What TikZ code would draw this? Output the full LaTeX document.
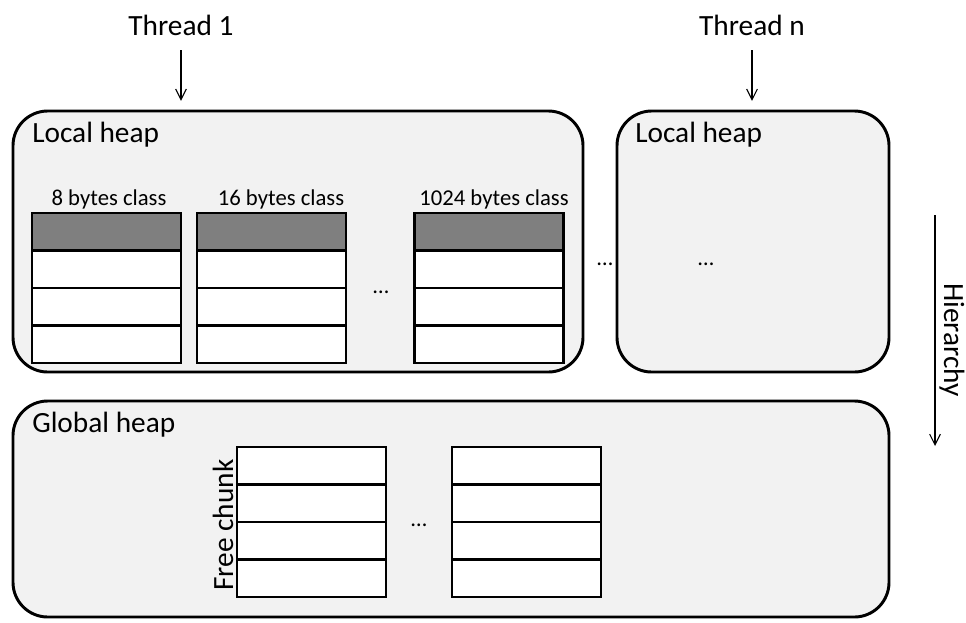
\documentclass[tikz,border=0pt]{standalone}
\usepackage{fontspec}
\setmainfont{Carlito}
\usepackage{xcolor}
\usepackage{tikz}
\usetikzlibrary{positioning,fit,arrows.meta}
\definecolor{heapfill}{HTML}{F2F2F2}
\definecolor{headgray}{HTML}{7F7F7F}

\begin{document}
\begin{tikzpicture}[x=0.75pt, y=-0.75pt, >={Straight Barb[length=8pt,width=8pt]}]
 \tikzset{heap/.style={draw, rectangle, rounded corners=26pt, line width=2.2pt, fill=heapfill, inner sep=0pt},
   cell/.style={draw, rectangle, line width=2.2pt, fill=white, minimum width=111.75pt, minimum height=28.125pt, inner sep=0pt},
   bigtext/.style={font=\fontsize{22}{26}\selectfont, inner sep=0pt},
   smalltext/.style={font=\fontsize{17}{20}\selectfont, inner sep=0pt}};
  \useasboundingbox (0,0) rectangle (966,622);
  \node[heap, fit={(13,111) (583,372)}] (heap1) {};
  \node[heap, fit={(617,111) (889,372)}] (heapn) {};
  \node[heap, fit={(13,401) (889,617)}] (global) {};
  \node[bigtext, anchor=base west] (lh1) at (32,142) {Local heap};
  \node[bigtext, anchor=base west] (lhn) at (635,142) {Local heap};
  \node[bigtext, anchor=base west] (gh) at (32,432) {Global heap};
  \node[bigtext, anchor=base] (thread1) at (181,35) {Thread 1};
  \node[bigtext, anchor=base] (threadn) at (752,35) {Thread n};
  \draw[->, line width=0.8pt, shorten <=11pt, shorten >=6.5pt] (thread1.south) -- (thread1.south |- heap1.north);
  \draw[->, line width=0.8pt, shorten <=11pt, shorten >=6.5pt] (threadn.south) -- (threadn.south |- heapn.north);
  \foreach \col/\x in {a/106.5, b/271.5, c/489} {
    \node[cell, fill=headgray] (\col0) at (\x,231.75) {};
    \foreach \r in {1,2,3}
      \node[cell] (\col\r) at (\x,231.75+37.5*\r) {};
  }
  \node[smalltext, anchor=base] (cls8) at (109,205) {8 bytes class};
  \node[smalltext, anchor=base] (cls16) at (281,205) {16 bytes class};
  \node[smalltext, anchor=base] (cls1024) at (494,205) {1024 bytes class};
  \node[smalltext] (dotsa) at (381,292) {\dots};
  \node[smalltext] (dotsb) at (605,264) {\dots};
  \node[smalltext] (dotsc) at (706,264) {\dots};
  \foreach \col/\x in {p/311.5, q/526.5}
    \foreach \r in {0,...,3}
      \node[cell] (\col\r) at (\x,465.75+37.5*\r) {};
  \node[smalltext] (dotsd) at (419,525) {\dots};
  \node[bigtext, rotate=90, anchor=base] (free) at (233,525) {Free chunk};
  \coordinate (htop) at (935,215);
  \coordinate (hbot) at (935,446);
  \draw[->, line width=0.8pt] (htop) -- (hbot);
  \node[bigtext, rotate=-90, anchor=base] (hier) at (944,340) {Hierarchy};
\end{tikzpicture}
\end{document}
